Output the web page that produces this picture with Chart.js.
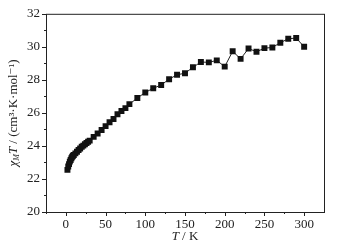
<!DOCTYPE html>
<html>
<head>
<meta charset="utf-8">
<script src="https://cdn.jsdelivr.net/npm/chart.js@4"></script>
<style>
  html, body { margin: 0; padding: 0; background: #fff; }
  #wrap { width: 342px; height: 246px; }
</style>
</head>
<body>
<div id="wrap"><canvas id="c"></canvas></div>
<script>
// temperature (K) and chiM*T values
const temps = [2, 3, 4, 5, 6, 7, 8, 9, 10, 12, 14, 16, 18, 20, 22, 24, 26, 28, 30,
  35, 40, 45, 50, 55, 60, 65, 70, 75, 80, 90, 100, 110, 120, 130, 140, 150,
  160, 170, 180, 190, 200, 210, 220, 230, 240, 250, 260, 270, 280, 290, 300];
const chiT = [22.55, 22.75, 22.9, 23.05, 23.15, 23.25, 23.35, 23.4, 23.45, 23.55, 23.65, 23.75, 23.85, 23.95, 24.02, 24.1, 24.18, 24.25, 24.32,
  24.55, 24.75, 24.96, 25.2, 25.43, 25.63, 25.92, 26.12, 26.29, 26.53, 26.9, 27.24, 27.49, 27.69, 28.04, 28.31, 28.4,
  28.76, 29.08, 29.06, 29.18, 28.8, 29.73, 29.27, 29.9, 29.7, 29.92, 29.96, 30.25, 30.49, 30.53, 30.0];
const xTicks = [0, 50, 100, 150, 200, 250, 300];
const yTicks = [20, 22, 24, 26, 28, 30, 32];

const ink = '#222';
const serif = '"Liberation Serif", "DejaVu Serif", serif';

const points = temps.map((t, i) => ({ x: t, y: chiT[i] }));

// frame, tick marks and axis titles
const framePlugin = {
  id: 'frame',
  afterDraw(chart) {
    const { ctx, chartArea: a, scales } = chart;
    ctx.save();
    ctx.strokeStyle = ink;
    ctx.lineWidth = 1;
    ctx.strokeRect(a.left + 0.5, a.top + 0.5, a.right - a.left, a.bottom - a.top);

    ctx.beginPath();
    for (let v = -25; v <= 325; v += 25) {
      const x = Math.round(scales.x.getPixelForValue(v)) + 0.5;
      if (x < a.left || x > a.right) continue;
      const len = v % 50 === 0 ? 4 : 2;
      ctx.moveTo(x, a.bottom);
      ctx.lineTo(x, a.bottom + len);
    }
    for (let v = 20; v <= 32; v += 1) {
      const y = Math.round(scales.y.getPixelForValue(v)) + 0.5;
      const len = v % 2 === 0 ? 4 : 2;
      ctx.moveTo(a.left, y);
      ctx.lineTo(a.left - len, y);
    }
    ctx.stroke();

    ctx.fillStyle = ink;
    // x title
    const cx = (a.left + a.right) / 2;
    ctx.textBaseline = 'middle';
    const partsX = [['italic 13px ' + serif, 'T'], ['13px ' + serif, ' / K']];
    let wx = 0;
    partsX.forEach(p => { ctx.font = p[0]; wx += ctx.measureText(p[1]).width; });
    let px = cx - wx / 2;
    partsX.forEach(p => { ctx.font = p[0]; ctx.fillText(p[1], px, 237); px += ctx.measureText(p[1]).width; });

    // y title
    const cy = (a.top + a.bottom) / 2;
    const partsY = [
      ['italic 13px ' + serif, '\u03c7', 0],
      ['italic 8px ' + serif, 'M', 3],
      ['italic 13px ' + serif, 'T', 0],
      ['13px ' + serif, ' / (cm\u00b3\u00b7K\u00b7mol\u207b\u00b9)', 0]
    ];
    let wy = 0;
    partsY.forEach(p => { ctx.font = p[0]; wy += ctx.measureText(p[1]).width; });
    ctx.translate(14, cy);
    ctx.rotate(-Math.PI / 2);
    let py = -wy / 2;
    partsY.forEach(p => { ctx.font = p[0]; ctx.fillText(p[1], py, p[2]); py += ctx.measureText(p[1]).width; });
    ctx.restore();
  }
};

new Chart(document.getElementById('c'), {
  type: 'scatter',
  data: {
    datasets: [{
      data: points,
      showLine: true,
      borderColor: ink,
      borderWidth: 1,
      backgroundColor: '#111',
      pointStyle: 'rect',
      pointRadius: 4.2,
      pointBorderWidth: 0
    }]
  },
  options: {
    responsive: true,
    maintainAspectRatio: false,
    animation: false,
    layout: { padding: { top: 8, right: 18, left: 0, bottom: 0 } },
    plugins: { legend: { display: false }, tooltip: { enabled: false } },
    scales: {
      x: {
        type: 'linear',
        min: -25,
        max: 325,
        grid: { display: false, drawTicks: false },
        border: { display: false },
        afterBuildTicks: s => { s.ticks = xTicks.map(v => ({ value: v })); },
        afterFit: s => { s.height = 34; },
        ticks: { color: ink, padding: 5, font: { family: serif, size: 13 }, maxRotation: 0 }
      },
      y: {
        min: 20,
        max: 32,
        grid: { display: false, drawTicks: false },
        border: { display: false },
        afterBuildTicks: s => { s.ticks = yTicks.map(v => ({ value: v })); },
        afterFit: s => { s.width = 46; },
        ticks: { color: ink, padding: 6, font: { family: serif, size: 13 } }
      }
    }
  },
  plugins: [framePlugin]
});
</script>
</body>
</html>
